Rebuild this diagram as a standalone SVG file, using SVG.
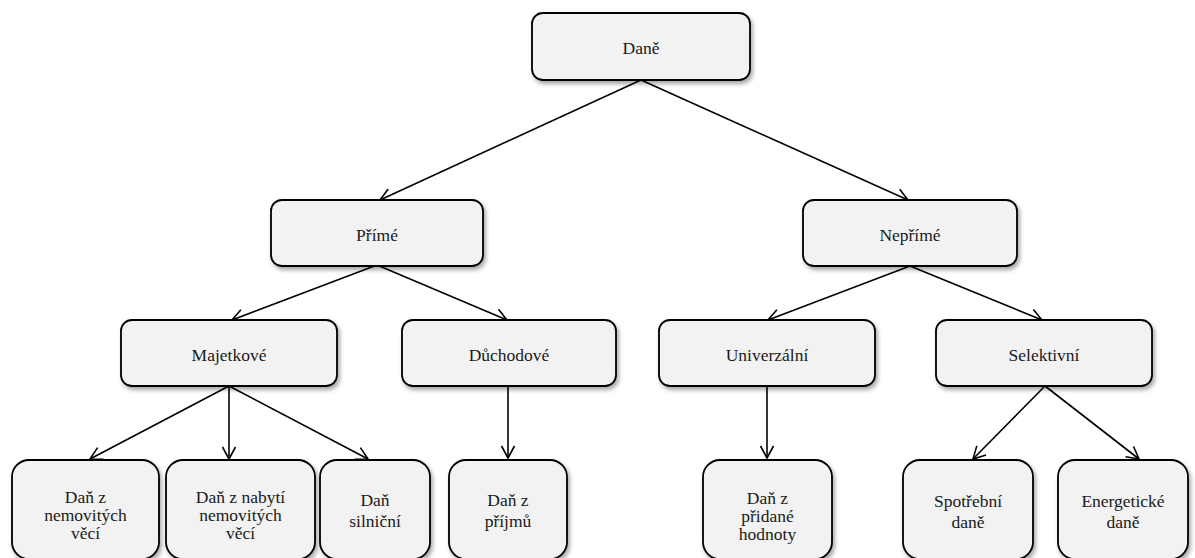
<svg xmlns="http://www.w3.org/2000/svg" width="1195" height="558" viewBox="0 0 1195 558">
<style>
.box{fill:#f2f2f2;stroke:#000;stroke-width:1.8;filter:url(#sh)}
text{font-family:'Liberation Serif','DejaVu Serif',serif;font-size:17.5px;fill:#1a1a1a;text-anchor:middle}
.c{stroke:#000;stroke-width:1.6;fill:none;marker-end:url(#ah)}
</style>
<defs>
<filter id="sh" x="-10%" y="-10%" width="120%" height="130%">
<feDropShadow dx="2" dy="3" stdDeviation="2" flood-color="#000" flood-opacity="0.35"/>
</filter>
<marker id="ah" markerUnits="userSpaceOnUse" markerWidth="16" markerHeight="16" refX="13" refY="7" orient="auto" viewBox="0 0 16 14">
<path d="M1,0.5 L13,7 L1,13.5" fill="none" stroke="#000" stroke-width="1.6"/>
</marker>
</defs>
<g id="connectors">
<line class="c" x1="641" y1="80" x2="380" y2="200"/>
<line class="c" x1="641" y1="80" x2="908" y2="200"/>
<line class="c" x1="377" y1="265" x2="232" y2="320"/>
<line class="c" x1="377" y1="265" x2="507" y2="320"/>
<line class="c" x1="910" y1="266" x2="768" y2="320"/>
<line class="c" x1="910" y1="266" x2="1042" y2="320"/>
<line class="c" x1="229" y1="386" x2="90" y2="459"/>
<line class="c" x1="229" y1="386" x2="229" y2="459"/>
<line class="c" x1="229" y1="386" x2="368" y2="459"/>
<line class="c" x1="508" y1="386" x2="508" y2="458"/>
<line class="c" x1="767" y1="386" x2="767" y2="458"/>
<line class="c" x1="1045" y1="386" x2="973" y2="459"/>
<line class="c" x1="1045" y1="386" x2="1139" y2="459"/>
</g>
<g id="n-dane"><rect class="box" x="532" y="13" width="218" height="67" rx="11"/><text x="641" y="54">Daně</text></g>
<g id="n-prime"><rect class="box" x="271" y="200" width="212" height="66" rx="11"/><text x="377" y="241">Přímé</text></g>
<g id="n-neprime"><rect class="box" x="803" y="200" width="214" height="66" rx="11"/><text x="910" y="241">Nepřímé</text></g>
<g id="n-majetkove"><rect class="box" x="121" y="320" width="216" height="66" rx="11"/><text x="229" y="361">Majetkové</text></g>
<g id="n-duchodove"><rect class="box" x="402" y="320" width="214" height="66" rx="11"/><text x="509" y="361">Důchodové</text></g>
<g id="n-univerzalni"><rect class="box" x="659" y="320" width="216" height="66" rx="11"/><text x="767" y="361">Univerzální</text></g>
<g id="n-selektivni"><rect class="box" x="936" y="320" width="216" height="66" rx="11"/><text x="1044" y="361">Selektivní</text></g>
<g id="n-nemovitych"><rect class="box" x="12" y="460" width="147" height="99" rx="17"/><text x="85.5" y="503">Daň z</text><text x="85.5" y="521">nemovitých</text><text x="85.5" y="539">věcí</text></g>
<g id="n-nabyti"><rect class="box" x="166" y="460" width="149" height="99" rx="17"/><text x="240.5" y="503">Daň z nabytí</text><text x="240.5" y="521">nemovitých</text><text x="240.5" y="539">věcí</text></g>
<g id="n-silnicni"><rect class="box" x="320" y="460" width="110" height="99" rx="17"/><text x="375" y="505.5">Daň</text><text x="375" y="527">silniční</text></g>
<g id="n-prijmu"><rect class="box" x="449" y="460" width="118" height="99" rx="17"/><text x="508" y="505.5">Daň z</text><text x="508" y="527">příjmů</text></g>
<g id="n-dph"><rect class="box" x="703" y="460" width="129" height="99" rx="17"/><text x="767.5" y="504">Daň z</text><text x="767.5" y="522">přidané</text><text x="767.5" y="540">hodnoty</text></g>
<g id="n-spotrebni"><rect class="box" x="903" y="460" width="130" height="99" rx="17"/><text x="968" y="506.5">Spotřební</text><text x="968" y="527.5">daně</text></g>
<g id="n-energeticke"><rect class="box" x="1058" y="460" width="130" height="99" rx="17"/><text x="1123" y="506.5">Energetické</text><text x="1123" y="527.5">daně</text></g>
</svg>
